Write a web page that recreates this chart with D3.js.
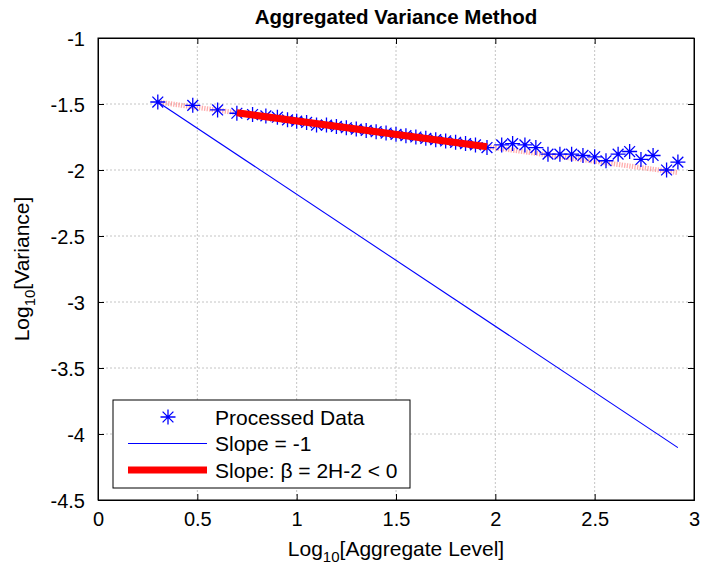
<!DOCTYPE html>
<html>
<head>
<meta charset="utf-8">
<script src="https://cdn.jsdelivr.net/npm/d3@7"></script>
<style>
  body { margin: 0; background: #fff; }
  text { font-family: "Liberation Sans", Arial, sans-serif; }
</style>
</head>
<body>
<div id="chart"></div>
<script>
// Aggregated variance plot: log10 variance vs log10 aggregate level

// processed data points
const logLevel = [0.301, 0.477, 0.602, 0.699, 0.778, 0.845, 0.903, 0.954, 1.000, 1.050,
  1.100, 1.150, 1.200, 1.250, 1.300, 1.350, 1.400, 1.450, 1.500, 1.550,
  1.600, 1.650, 1.700, 1.750, 1.800, 1.850, 1.900, 1.958, 2.032, 2.087,
  2.149, 2.204, 2.265, 2.325, 2.384, 2.441, 2.500, 2.557, 2.618, 2.676,
  2.733, 2.794, 2.862, 2.919];
const logVar = [-1.485, -1.51, -1.545, -1.57, -1.58, -1.59, -1.60, -1.62, -1.63, -1.64,
  -1.66, -1.66, -1.67, -1.68, -1.69, -1.70, -1.71, -1.72, -1.73, -1.74,
  -1.75, -1.76, -1.77, -1.78, -1.79, -1.80, -1.81, -1.83, -1.81, -1.80,
  -1.81, -1.83, -1.88, -1.88, -1.88, -1.89, -1.90, -1.93, -1.88, -1.86,
  -1.92, -1.89, -2.00, -1.94];

// fitted line (thin dotted over all data, thick over the fit range)
const fitIntercept = -1.424;
const fitSlope = -0.204;
const fitAllRange = [0.301, 2.919];
const fitRange = [0.699, 1.958];

// reference line with slope -1 through first point
const refSlope = -1;
const refRange = [0.301, 2.919];

const xTicks = [0, 0.5, 1, 1.5, 2, 2.5, 3];
const yTicks = [-1, -1.5, -2, -2.5, -3, -3.5, -4, -4.5];
const legendLabels = ["Processed Data", "Slope = -1", "Slope: \u03B2 = 2H-2 < 0"];

const width = 701, height = 569;
const margin = { top: 38, right: 7, bottom: 69, left: 98 };
const plotW = width - margin.left - margin.right;
const plotH = height - margin.top - margin.bottom;

const svg = d3.select("#chart").append("svg")
  .attr("width", width)
  .attr("height", height)
  .style("background", "#fff");

const x = d3.scaleLinear().domain([0, 3]).range([0, plotW]);
const y = d3.scaleLinear().domain([-4.5, -1]).range([plotH, 0]);

const g = svg.append("g")
  .attr("transform", `translate(${margin.left},${margin.top})`);

// grid
g.append("g").selectAll("line")
  .data(xTicks.slice(1, -1))
  .join("line")
  .attr("x1", d => x(d)).attr("x2", d => x(d))
  .attr("y1", 0).attr("y2", plotH)
  .attr("stroke", "#c4c4c4")
  .attr("stroke-dasharray", "2,2");

g.append("g").selectAll("line")
  .data(yTicks.slice(1, -1))
  .join("line")
  .attr("x1", 0).attr("x2", plotW)
  .attr("y1", d => y(d)).attr("y2", d => y(d))
  .attr("stroke", "#c4c4c4")
  .attr("stroke-dasharray", "2,2");

// axes, ticks inside on all four sides (plain hyphen minus like MATLAB)
const tickFont = "20px";
const fmt = d => String(d);
const xAxis = g.append("g")
  .attr("transform", `translate(0,${plotH})`)
  .call(d3.axisBottom(x).tickValues(xTicks).tickSize(-6).tickPadding(12).tickFormat(fmt));
const xAxisTop = g.append("g")
  .call(d3.axisTop(x).tickValues(xTicks).tickSize(-6).tickFormat(""));
const yAxis = g.append("g")
  .call(d3.axisLeft(y).tickValues(yTicks).tickSize(-6).tickPadding(13).tickFormat(fmt));
const yAxisRight = g.append("g")
  .attr("transform", `translate(${plotW},0)`)
  .call(d3.axisRight(y).tickValues(yTicks).tickSize(-6).tickFormat(""));

[xAxis, xAxisTop, yAxis, yAxisRight].forEach(a => {
  a.select(".domain").attr("stroke", "#000");
  a.selectAll(".tick line").attr("stroke", "#000");
  a.selectAll("text")
    .style("font-size", tickFont)
    .style("font-family", "'Liberation Sans', Arial, sans-serif")
    .attr("fill", "#000");
});
yAxis.selectAll("text").attr("dy", "0.36em");

// box outline
g.append("rect")
  .attr("width", plotW).attr("height", plotH)
  .attr("fill", "none").attr("stroke", "#000");

const line = d3.line().x(d => x(d[0])).y(d => y(d[1]));
const fitAt = v => fitIntercept + fitSlope * v;

// thin dotted fit line over all data
g.append("path")
  .attr("d", line(fitAllRange.map(v => [v, fitAt(v)])))
  .attr("stroke", "#ff8080")
  .attr("stroke-opacity", 0.65)
  .attr("stroke-width", 5)
  .attr("stroke-dasharray", "1.3,1.3")
  .attr("fill", "none");

// slope -1 reference
const refAt = v => logVar[0] + refSlope * (v - logLevel[0]);
g.append("path")
  .attr("d", line(refRange.map(v => [v, refAt(v)])))
  .attr("stroke", "#0000ff")
  .attr("stroke-width", 1.1)
  .attr("fill", "none");

// asterisk marker
function star(r) {
  const d = r * 0.72;
  return `M0,${-r}V${r}M${-r},0H${r}M${-d},${-d}L${d},${d}M${-d},${d}L${d},${-d}`;
}

const pts = logLevel.map((v, i) => [v, logVar[i]]);
g.append("g").selectAll("path")
  .data(pts)
  .join("path")
  .attr("transform", d => `translate(${x(d[0])},${y(d[1])})`)
  .attr("d", star(7.5))
  .attr("stroke", "#0000ff")
  .attr("stroke-width", 1.3)
  .attr("fill", "none");

// thick fit over the fit range
g.append("path")
  .attr("d", line(fitRange.map(v => [v, fitAt(v)])))
  .attr("stroke", "#ff0000")
  .attr("stroke-width", 7)
  .attr("fill", "none");

// title
svg.append("text")
  .attr("x", margin.left + plotW / 2)
  .attr("y", 24)
  .attr("text-anchor", "middle")
  .style("font-size", "20.5px")
  .style("font-weight", "bold")
  .text("Aggregated Variance Method");

// x label
const xl = svg.append("text")
  .attr("x", margin.left + plotW / 2)
  .attr("y", 556)
  .attr("text-anchor", "middle")
  .style("font-size", "21px");
xl.append("tspan").text("Log");
xl.append("tspan").attr("dy", 6).style("font-size", "15px").text("10");
xl.append("tspan").attr("dy", -6).text("[Aggregate Level]");

// y label
const yl = svg.append("text")
  .attr("transform", `translate(29,${margin.top + plotH / 2}) rotate(-90)`)
  .attr("text-anchor", "middle")
  .style("font-size", "21px");
yl.append("tspan").text("Log");
yl.append("tspan").attr("dy", 6).style("font-size", "15px").text("10");
yl.append("tspan").attr("dy", -6).text("[Variance]");

// legend
const lg = svg.append("g").attr("transform", "translate(113,400)");
lg.append("rect")
  .attr("width", 297).attr("height", 88)
  .attr("fill", "#fff").attr("stroke", "#000");

const rowY = [17, 43.5, 70];
lg.append("path")
  .attr("transform", `translate(55,${rowY[0]})`)
  .attr("d", star(7.5))
  .attr("stroke", "#0000ff").attr("stroke-width", 1.3).attr("fill", "none");
lg.append("line")
  .attr("x1", 15).attr("x2", 94).attr("y1", rowY[1]).attr("y2", rowY[1])
  .attr("stroke", "#0000ff").attr("stroke-width", 1.1);
lg.append("line")
  .attr("x1", 15).attr("x2", 94).attr("y1", rowY[2]).attr("y2", rowY[2])
  .attr("stroke", "#ff0000").attr("stroke-width", 7);

lg.selectAll("text.lab")
  .data(legendLabels)
  .join("text")
  .attr("class", "lab")
  .attr("x", 102)
  .attr("y", (d, i) => rowY[i])
  .attr("dy", "0.36em")
  .style("font-size", "21px")
  .text(d => d);
</script>
</body>
</html>
